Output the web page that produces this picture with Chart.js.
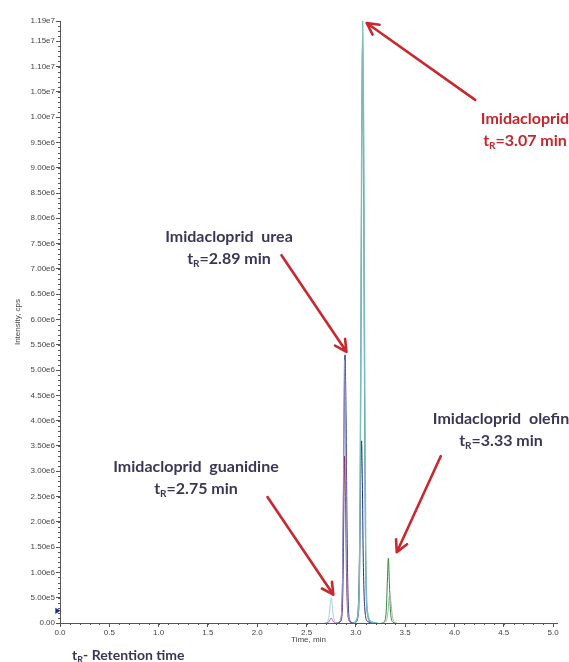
<!DOCTYPE html>
<html>
<head>
<meta charset="utf-8">
<script src="https://cdn.jsdelivr.net/npm/chart.js@4"></script>
<style>
  html, body { margin: 0; padding: 0; background: #fff; }
  #wrap { position: relative; width: 569px; height: 662px; overflow: hidden; }
  canvas { position: absolute; left: 0; top: 0; }
  .note { position: absolute; font-family: Lato, "Open Sans", sans-serif; font-weight: 700;
          font-size: 16px; line-height: 22px; color: #3d3556; text-align: center; white-space: nowrap; }
  .note.red { color: #c3262d; }
  .note sub { font-size: 10px; vertical-align: -3px; line-height: 0; }
  #caption { position: absolute; left: 72px; top: 646px; font-family: Lato, "Open Sans", sans-serif;
             font-weight: 700; font-size: 14px; line-height: 18px; color: #3d3556; white-space: nowrap; }
  #caption sub { font-size: 9px; vertical-align: -3px; line-height: 0; }
</style>
</head>
<body>
<div id="wrap">
  <canvas id="chart" width="569" height="662"></canvas>
  <div class="note red" style="left:476px; top:107px; width:98px;">Imidacloprid<br>t<sub>R</sub>=3.07 min</div>
  <div class="note" style="left:134px; top:225px; width:190px;">Imidacloprid&nbsp; urea<br>t<sub>R</sub>=2.89 min</div>
  <div class="note" style="left:96px; top:455px; width:200px;">Imidacloprid&nbsp; guanidine<br>t<sub>R</sub>=2.75 min</div>
  <div class="note" style="left:431px; top:407px; width:140px;">Imidacloprid&nbsp; olefin<br>t<sub>R</sub>=3.33 min</div>
  <div id="caption">t<sub>R</sub>- Retention time</div>
</div>
<script>
// Axis ticks (time in min, intensity in cps)
const xTickValues = [0.0, 0.5, 1.0, 1.5, 2.0, 2.5, 3.0, 3.5, 4.0, 4.5, 5.0];
const yTickValues = [0, 5e5, 1e6, 1.5e6, 2e6, 2.5e6, 3e6, 3.5e6, 4e6, 4.5e6, 5e6, 5.5e6,
                     6e6, 6.5e6, 7e6, 7.5e6, 8e6, 8.5e6, 9e6, 9.5e6, 1e7, 1.05e7, 1.1e7, 1.15e7, 1.19e7];

// Extracted ion chromatograms: retention time (min) and intensity (cps)
const guanidineTime  = [2.68, 2.71, 2.73, 2.74, 2.75, 2.76, 2.77, 2.79, 2.82];
const guanidineInt   = [0, 2e4, 1.6e5, 3.6e5, 4.9e5, 3.7e5, 1.7e5, 2e4, 0];
const guanidine2Time = [2.69, 2.72, 2.74, 2.75, 2.76, 2.78, 2.81];
const guanidine2Int  = [0, 1e4, 7e4, 1.0e5, 7e4, 1e4, 0];

const ureaTime  = [2.80, 2.84, 2.86, 2.87, 2.88, 2.89, 2.90, 2.91, 2.92, 2.94, 2.98,
                   3.01, 3.03, 3.04, 3.05, 3.058, 3.066, 3.075, 3.09, 3.12, 3.18];
const ureaInt   = [0, 3e4, 4e5, 1.6e6, 3.9e6, 5.3e6, 4.2e6, 2.0e6, 6e5, 5e4, 0,
                   4e4, 6e5, 1.7e6, 3.0e6, 3.6e6, 2.8e6, 1.3e6, 3e5, 3e4, 0];
const urea2Time = [2.82, 2.85, 2.87, 2.88, 2.885, 2.895, 2.905, 2.92, 2.95];
const urea2Int  = [0, 5e4, 8e5, 2.6e6, 3.3e6, 2.5e6, 1.0e6, 1.5e5, 0];
const urea3Time = [2.81, 2.845, 2.865, 2.875, 2.885, 2.895, 2.905, 2.92, 2.95];
const urea3Int  = [0, 6e4, 9e5, 3.0e6, 5.2e6, 4.0e6, 1.6e6, 2e5, 0];

const imidTime  = [2.98, 3.02, 3.04, 3.05, 3.06, 3.07, 3.08, 3.09, 3.10, 3.12, 3.16, 3.22];
const imidInt   = [0, 1.5e5, 1.6e6, 5.2e6, 9.8e6, 1.19e7, 9.6e6, 5.0e6, 1.6e6, 2.0e5, 2e4, 0];
const imid2Time = [2.99, 3.02, 3.04, 3.05, 3.06, 3.068, 3.078, 3.088, 3.10, 3.12, 3.16];
const imid2Int  = [0, 1e5, 1.3e6, 4.8e6, 9.4e6, 1.14e7, 9.2e6, 4.6e6, 1.2e6, 1.5e5, 0];

const olefinTime  = [3.26, 3.29, 3.31, 3.32, 3.33, 3.34, 3.35, 3.37, 3.40];
const olefinInt   = [0, 3e4, 3.0e5, 8.5e5, 1.28e6, 8.0e5, 2.8e5, 3e4, 0];
const olefin2Time = [3.27, 3.30, 3.325, 3.335, 3.345, 3.355, 3.37, 3.39, 3.42];
const olefin2Int  = [0, 2e4, 2e5, 4.5e5, 6.0e5, 4.3e5, 1.5e5, 2e4, 0];

// Threshold marker on the intensity axis
const markerTime = [-0.03];
const markerInt  = [2.4e5];

const pts = (ts, is) => ts.map((t, i) => ({ x: t, y: is[i] }));

function trace(ts, is, color, width) {
  return {
    data: pts(ts, is),
    borderColor: color,
    borderWidth: width || 1,
    pointRadius: 0,
    fill: false,
    cubicInterpolationMode: 'monotone'
  };
}

// Callout arrows, given in (time, intensity) coordinates: tail -> head
const arrows = [
  { from: [4.21, 1.034e7], to: [3.11, 1.186e7] },
  { from: [2.246, 7.27e6], to: [2.905, 5.36e6] },
  { from: [2.104, 2.49e6], to: [2.772, 5.6e5] },
  { from: [3.862, 3.30e6], to: [3.415, 1.40e6] }
];

const arrowPlugin = {
  id: 'arrows',
  afterDatasetsDraw(chart) {
    const { ctx, scales: { x, y } } = chart;
    ctx.save();
    ctx.strokeStyle = '#c8282e';
    ctx.lineWidth = 2.6;
    ctx.lineCap = 'round';
    ctx.lineJoin = 'round';
    arrows.forEach(a => {
      const x1 = x.getPixelForValue(a.from[0]), y1 = y.getPixelForValue(a.from[1]);
      const x2 = x.getPixelForValue(a.to[0]),   y2 = y.getPixelForValue(a.to[1]);
      const ang = Math.atan2(y2 - y1, x2 - x1);
      const head = 13, spread = Math.PI / 6.5;
      ctx.beginPath();
      ctx.moveTo(x1, y1);
      ctx.lineTo(x2, y2);
      ctx.moveTo(x2 - head * Math.cos(ang - spread), y2 - head * Math.sin(ang - spread));
      ctx.lineTo(x2, y2);
      ctx.lineTo(x2 - head * Math.cos(ang + spread), y2 - head * Math.sin(ang + spread));
      ctx.stroke();
    });
    ctx.restore();
  }
};

// Minor tick marks along both axes
const minorTickPlugin = {
  id: 'minorTicks',
  afterDraw(chart) {
    const { ctx, scales: { x, y }, chartArea } = chart;
    ctx.save();
    ctx.strokeStyle = '#555';
    ctx.lineWidth = 1;
    ctx.beginPath();
    for (let v = 0; v <= 1.19e7 + 1; v += 1e5) {
      const py = Math.round(y.getPixelForValue(v)) + 0.5;
      ctx.moveTo(chartArea.left - 2, py);
      ctx.lineTo(chartArea.left, py);
    }
    for (let k = 0; k <= 50; k++) {
      const px = Math.round(x.getPixelForValue(k / 10)) + 0.5;
      ctx.moveTo(px, chartArea.bottom);
      ctx.lineTo(px, chartArea.bottom + 2);
    }
    ctx.stroke();
    ctx.restore();
  }
};

const tickFont = { family: '"Liberation Sans", Arial, sans-serif', size: 8 };

new Chart(document.getElementById('chart'), {
  type: 'line',
  data: {
    datasets: [
      trace(imidTime, imidInt, '#7dbcbc', 1.4),
      trace(imid2Time, imid2Int, '#2d7d72', 1),
      trace(guanidineTime, guanidineInt, '#9fd0d3', 1),
      trace(guanidine2Time, guanidine2Int, '#c24fb8', 1),
      trace(urea3Time, urea3Int, '#9a9ccc', 1),
      trace(ureaTime, ureaInt, '#262b8a', 1),
      trace(urea2Time, urea2Int, '#8b1f4f', 1),
      trace(olefin2Time, olefin2Int, '#aab5aa', 1),
      trace(olefinTime, olefinInt, '#2e8a3b', 1),
      {
        data: pts(markerTime, markerInt),
        showLine: false,
        pointStyle: 'triangle',
        rotation: 90,
        pointRadius: 3.5,
        backgroundColor: '#1f2d8a',
        borderColor: '#1f2d8a',
        borderWidth: 0,
        clip: false
      }
    ]
  },
  options: {
    responsive: false,
    animation: false,
    events: [],
    layout: { padding: { left: 0, right: 12, top: 21, bottom: 17 } },
    plugins: { legend: { display: false }, tooltip: { enabled: false } },
    scales: {
      x: {
        type: 'linear',
        min: 0,
        max: 5.04,
        afterBuildTicks: s => { s.ticks = xTickValues.map(v => ({ value: v })); },
        afterFit: s => { s.height = 22; },
        border: { color: '#555', width: 1 },
        grid: { drawOnChartArea: false, drawTicks: true, tickLength: 4, tickColor: '#555' },
        ticks: { font: tickFont, color: '#444', padding: 1, maxRotation: 0, autoSkip: false,
                 callback: v => v.toFixed(1) },
        title: { display: true, text: 'Time, min', font: tickFont, color: '#444', padding: { top: 0, bottom: 0 } }
      },
      y: {
        min: 0,
        max: 1.19e7,
        afterBuildTicks: s => { s.ticks = yTickValues.map(v => ({ value: v })); },
        afterFit: s => { s.width = 60; },
        border: { color: '#555', width: 1 },
        grid: { drawOnChartArea: false, drawTicks: true, tickLength: 4, tickColor: '#555' },
        ticks: { font: tickFont, color: '#444', padding: 1, autoSkip: false,
                 callback: v => v === 0 ? '0.00' : v.toExponential(2).replace('e+', 'e') },
        title: { display: true, text: 'Intensity, cps', font: tickFont, color: '#444', padding: { top: 13, bottom: 0 } }
      }
    }
  },
  plugins: [arrowPlugin, minorTickPlugin]
});
</script>
</body>
</html>
